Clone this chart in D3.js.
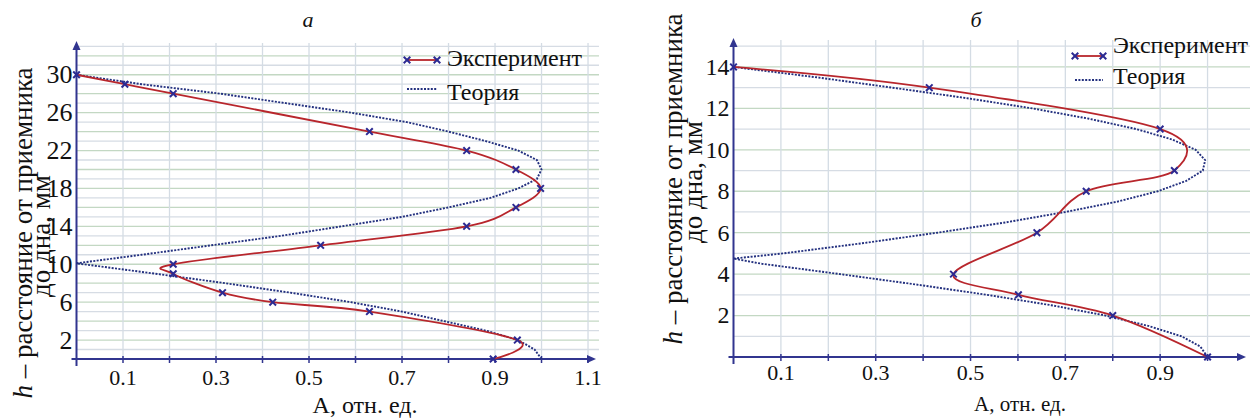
<!DOCTYPE html>
<html>
<head>
<meta charset="utf-8">
<script src="https://cdn.jsdelivr.net/npm/d3@7"></script>
<style>
body { margin: 0; background: #fff; }
</style>
</head>
<body>
<div id="chart"></div>
<script>
var width = 1250,
  height = 419;

var expA_a = [0, 0.104, 0.208, 0.63, 0.839, 0.945, 0.998, 0.945, 0.839, 0.525, 0.208, 0.208, 0.314, 0.422, 0.63, 0.948, 0.896];
var expH_a = [30, 29, 28, 24, 22, 20, 18, 16, 14, 12, 10, 9, 7, 6, 5, 2, 0];
var theoH_a = [0, 1, 2, 3, 4, 5, 6, 7, 8, 9, 10.1, 11, 12, 13, 14, 15, 16, 17, 18, 19, 20, 21, 22, 23, 24, 25, 26, 27, 28, 29, 30];
var theoA_a = [1.0, 0.985, 0.95, 0.88, 0.79, 0.70, 0.59, 0.46, 0.32, 0.17, 0, 0.14, 0.29, 0.44, 0.57, 0.70, 0.80, 0.89, 0.95, 0.99, 1.0, 0.99, 0.95, 0.88, 0.80, 0.71, 0.59, 0.45, 0.31, 0.14, 0];

// panel "б"
var expA_b = [0, 0.413, 0.90, 0.93, 0.744, 0.64, 0.464, 0.601, 0.80, 1.0];
var expH_b = [14, 13, 11, 9, 8, 6, 4, 3, 2, 0];
var theoH_b = [0, 0.5, 1, 1.5, 2, 2.5, 3, 3.5, 4, 4.5, 4.75, 5, 5.5, 6, 6.5, 7, 7.5, 8, 8.5, 9, 9.5, 10, 10.5, 11, 11.5, 12, 12.5, 13, 13.5, 14];
var theoA_b = [1.0, 0.985, 0.945, 0.875, 0.785, 0.67, 0.535, 0.385, 0.225, 0.06, 0, 0.105, 0.275, 0.43, 0.575, 0.70, 0.81, 0.895, 0.955, 0.99, 0.995, 0.975, 0.925, 0.85, 0.75, 0.63, 0.49, 0.335, 0.175, 0];

var xTickLabels_a = ["0.1", "0.3", "0.5", "0.7", "0.9", "1.1"];
var xTickLabels_b = ["0.1", "0.3", "0.5", "0.7", "0.9"];
var yTicks_a = [2, 6, 10, 14, 18, 22, 26, 30];
var yTicks_b = [2, 4, 6, 8, 10, 12, 14];
var seriesNames = ["Эксперимент", "Теория"];
var panelNames = ["а", "б"];
var xTitle = "А, отн. ед.";
var yTitle1 = "– расстояние от приемника";
var yTitle2 = "до дна, мм";

var axisColor = "#31358f",
  redColor = "#b8262c",
  blueColor = "#23307f",
  markColor = "#2c2a92";
var serif = "'Liberation Serif'";

var svg = d3.select("#chart").append("svg")
  .attr("width", width)
  .attr("height", height);

// every label goes through this so the serif face is set on the element itself
function label(sel, size) {
  return sel.style("font-family", serif)
    .style("font-size", size + "px")
    .style("fill", "#111");
}

function drawPanel(p) {
  var x = d3.scaleLinear().domain([0, p.xMax]).range([p.left, p.right]);
  var y = d3.scaleLinear().domain([0, p.yMax]).range([p.bottom, p.top]);
  var g = svg.append("g");

  // grid
  var hLines = d3.range(1, Math.floor(p.yMax) + 1);
  g.selectAll(".hgrid").data(hLines).enter().append("line")
    .attr("x1", p.left).attr("x2", p.gridRight)
    .attr("y1", function(d) { return y(d); })
    .attr("y2", function(d) { return y(d); })
    .attr("stroke", function(d) { return d % 2 === 0 ? "#c3d8c3" : "#d6dce4"; })
    .attr("stroke-width", 1.3);
  var vLines = d3.range(1, p.vCount + 1).map(function(i) { return i / 10; });
  g.selectAll(".vgrid").data(vLines).enter().append("line")
    .attr("x1", function(d) { return x(d); })
    .attr("x2", function(d) { return x(d); })
    .attr("y1", p.top).attr("y2", p.bottom)
    .attr("stroke", "#d4dce4")
    .attr("stroke-width", 1.3);

  // axes
  g.append("line")
    .attr("x1", p.left).attr("x2", p.left)
    .attr("y1", p.bottom + 7).attr("y2", p.top + 4)
    .attr("stroke", axisColor).attr("stroke-width", 2);
  g.append("path")
    .attr("d", d3.line()([[p.left - 4, p.top + 7], [p.left, p.top - 2], [p.left + 4, p.top + 7]]))
    .attr("fill", axisColor);
  g.append("line")
    .attr("x1", p.left - 5).attr("x2", p.right - 4)
    .attr("y1", p.bottom).attr("y2", p.bottom)
    .attr("stroke", axisColor).attr("stroke-width", 2);
  g.append("path")
    .attr("d", d3.line()([[p.right - 8, p.bottom - 4], [p.right + 1, p.bottom], [p.right - 8, p.bottom + 4]]))
    .attr("fill", axisColor);
  g.selectAll(".xtick").data(vLines).enter().append("line")
    .attr("x1", function(d) { return x(d); })
    .attr("x2", function(d) { return x(d); })
    .attr("y1", p.bottom - 3).attr("y2", p.bottom + 4)
    .attr("stroke", axisColor).attr("stroke-width", 1.5);

  // tick labels
  label(g.selectAll(".xlab").data(p.xLabels).enter().append("text")
    .attr("x", function(d) { return x(+d); })
    .attr("y", p.xLabelY)
    .attr("text-anchor", "middle"), p.tickFont)
    .text(function(d) { return d; });
  label(g.selectAll(".ylab").data(p.yTicks).enter().append("text")
    .attr("x", p.left - 4)
    .attr("y", function(d) { return y(d); })
    .attr("dy", "0.33em")
    .attr("text-anchor", "end"), p.yTickFont)
    .text(function(d) { return d; });

  // axis titles
  label(g.append("text")
    .attr("x", p.xTitleX).attr("y", p.xTitleY)
    .attr("text-anchor", "middle"), p.xTitleFont)
    .text(xTitle);
  var yt = label(g.append("text")
    .attr("transform", "translate(" + p.yTitleX1 + "," + p.yTitleY + ") rotate(-90)")
    .attr("text-anchor", "middle"), p.yTitleFont);
  yt.append("tspan").style("font-style", "italic").text("h");
  yt.append("tspan").text(" " + yTitle1);
  label(g.append("text")
    .attr("transform", "translate(" + p.yTitleX2 + "," + (p.yTitleY + 3) + ") rotate(-90)")
    .attr("text-anchor", "middle"), p.yTitleFont)
    .text(yTitle2);

  label(g.append("text")
    .attr("x", p.nameX).attr("y", 27)
    .attr("text-anchor", "middle"), 22)
    .style("font-style", "italic")
    .text(p.name);

  // theory
  var theo = p.theoH.map(function(h, i) { return [p.theoA[i], h]; });
  g.append("path")
    .datum(theo)
    .attr("d", d3.line()
      .x(function(d) { return x(d[0]); })
      .y(function(d) { return y(d[1]); }))
    .attr("fill", "none")
    .attr("stroke", blueColor)
    .attr("stroke-width", 1.9)
    .attr("stroke-dasharray", "2,1.4");

  // experiment
  var exp = p.expH.map(function(h, i) { return [p.expA[i], h]; });
  g.append("path")
    .datum(exp)
    .attr("d", d3.line()
      .curve(d3.curveCardinal.tension(0))
      .x(function(d) { return x(d[0]); })
      .y(function(d) { return y(d[1]); }))
    .attr("fill", "none")
    .attr("stroke", redColor)
    .attr("stroke-width", 1.8);

  var mark = d3.symbol(d3.symbolX, 30);
  g.selectAll(".pt").data(exp).enter().append("path")
    .attr("d", mark)
    .attr("transform", function(d) { return "translate(" + x(d[0]) + "," + y(d[1]) + ")"; })
    .attr("fill", "none")
    .attr("stroke", markColor)
    .attr("stroke-width", 2);

  // legend
  var lg = g.append("g");
  lg.append("line")
    .attr("x1", p.legX).attr("x2", p.legX + p.legW)
    .attr("y1", p.legY1).attr("y2", p.legY1)
    .attr("stroke", redColor).attr("stroke-width", 1.8);
  lg.selectAll(".lm").data([p.legX, p.legX + p.legW]).enter().append("path")
    .attr("d", mark)
    .attr("transform", function(d) { return "translate(" + d + "," + p.legY1 + ")"; })
    .attr("fill", "none").attr("stroke", markColor).attr("stroke-width", 2);
  lg.append("line")
    .attr("x1", p.legX).attr("x2", p.legX + p.legW)
    .attr("y1", p.legY2).attr("y2", p.legY2)
    .attr("stroke", blueColor).attr("stroke-width", 1.8)
    .attr("stroke-dasharray", "2,1.4");
  label(lg.selectAll(".lt").data(seriesNames).enter().append("text")
    .attr("x", p.legX + p.legW + 10)
    .attr("y", function(d, i) { return i === 0 ? p.legT1 : p.legT2; }), p.legFont)
    .text(function(d) { return d; });
}

drawPanel({
  name: panelNames[0], nameX: 308,
  left: 76.5, right: 595, top: 43, bottom: 359, gridRight: 599,
  xMax: 1.115, yMax: 33.35, vCount: 11,
  expA: expA_a, expH: expH_a, theoA: theoA_a, theoH: theoH_a,
  xLabels: xTickLabels_a, yTicks: yTicks_a,
  tickFont: 22, yTickFont: 26, xLabelY: 385,
  xTitleFont: 24, xTitleX: 365, xTitleY: 413,
  yTitleFont: 27, yTitleX1: 32, yTitleX2: 50, yTitleY: 233,
  legX: 407, legW: 30, legY1: 60, legY2: 89, legT1: 66, legT2: 100, legFont: 24
});

drawPanel({
  name: panelNames[1], nameX: 976,
  left: 733.5, right: 1245, top: 40, bottom: 357, gridRight: 1250,
  xMax: 1.079, yMax: 15.3, vCount: 10,
  expA: expA_b, expH: expH_b, theoA: theoA_b, theoH: theoH_b,
  xLabels: xTickLabels_b, yTicks: yTicks_b,
  tickFont: 22, yTickFont: 24, xLabelY: 380,
  xTitleFont: 21, xTitleX: 1020, xTitleY: 411,
  yTitleFont: 27, yTitleX1: 682, yTitleX2: 702, yTitleY: 179,
  legX: 1075, legW: 28, legY1: 56, legY2: 80, legT1: 53, legT2: 84, legFont: 24
});
</script>
</body>
</html>
